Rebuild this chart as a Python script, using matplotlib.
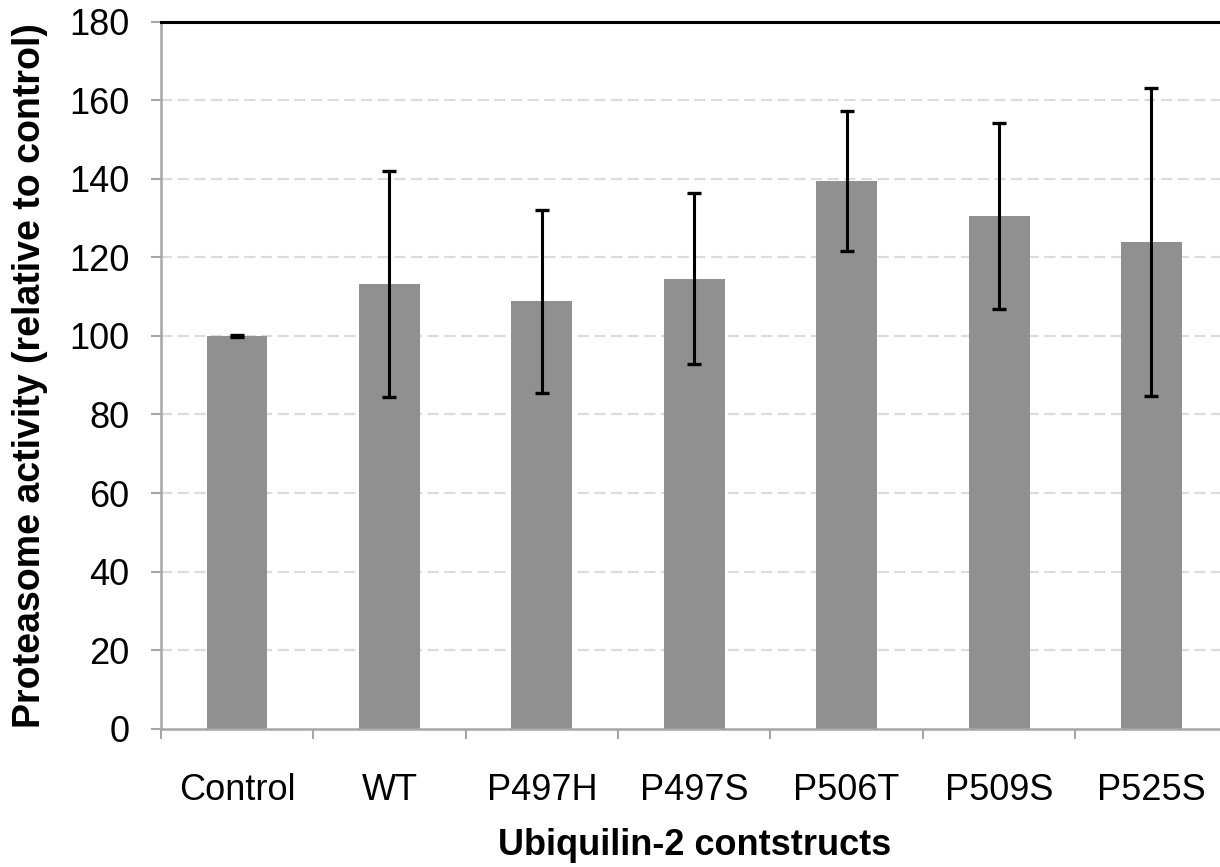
import numpy as np
import matplotlib
matplotlib.use("Agg")
import matplotlib.pyplot as plt

plt.rcParams['font.family'] = ['Liberation Sans', 'DejaVu Sans']

# values
categories = ['Control', 'WT', 'P497H', 'P497S', 'P506T', 'P509S', 'P525S']
activity = [100.0, 113.2, 108.8, 114.6, 139.4, 130.6, 123.9]
errors = [0.3, 28.7, 23.3, 21.8, 17.9, 23.7, 39.3]
y_ticks = [0, 20, 40, 60, 80, 100, 120, 140, 160, 180]

spine_grey = '#a6a6a6'

fig = plt.figure(figsize=(12.2, 8.67), dpi=100)
ax = fig.add_axes([0.1318, 0.1595, 0.8745, 0.8155])

x = np.arange(len(categories))
ax.bar(x, activity, width=0.4, color='#909090', zorder=2)
ax.errorbar(x, activity, yerr=errors, fmt='none', ecolor='black',
            elinewidth=2.2, capsize=5, capthick=2.4, zorder=3)

# axis limits and ticks
ax.set_xlim(-0.5, len(categories) - 0.5)
ax.set_ylim(0, 180)
ax.set_yticks(y_ticks)
ax.set_xticks(x)
ax.set_xticklabels(categories)
ax.set_xticks(np.arange(-0.5, len(categories), 1.0), minor=True)

ax.tick_params(axis='y', which='major', length=7.5, width=1.5, color=spine_grey,
               pad=15, labelsize=26)
ax.tick_params(axis='x', which='major', length=0, pad=32, labelsize=26)
ax.tick_params(axis='x', which='minor', length=7.5, width=1.5, color=spine_grey)

# dashed light grid
for v in y_ticks[1:-1]:
    ax.axhline(v, color='#dcdcdc', lw=1.6, ls=(0, (5, 2.5)), zorder=1)

for side in ['left', 'bottom']:
    ax.spines[side].set_color(spine_grey)
    ax.spines[side].set_linewidth(1.8)
ax.spines['right'].set_visible(False)
ax.spines['top'].set_color('black')
ax.spines['top'].set_linewidth(2.2)

ax.set_xlabel('Ubiquilin-2 contstructs', fontsize=26, fontweight='bold', labelpad=14)
ax.set_ylabel('Proteasome activity (relative to control)', fontsize=27,
              fontweight='bold', labelpad=15)

fig.savefig('out.png', dpi=100)
